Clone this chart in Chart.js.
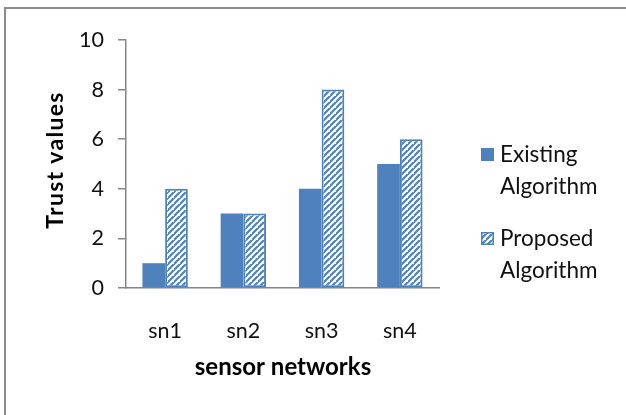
<!DOCTYPE html>
<html>
<head>
<meta charset="utf-8">
<script src="https://cdn.jsdelivr.net/npm/chart.js@4"></script>
<style>
  html, body { margin: 0; padding: 0; background: #fff; }
  #wrap { position: relative; width: 626px; height: 415px; }
  canvas { display: block; }
</style>
</head>
<body>
<div id="wrap"><canvas id="c" width="626" height="415"></canvas></div>
<script>
const categories = ['sn1', 'sn2', 'sn3', 'sn4'];
const existingValues = [1, 3, 4, 5];
const proposedValues = [4, 3, 8, 6];
const seriesNames = [['Existing', 'Algorithm'], ['Proposed', 'Algorithm']];
const yTicks = [0, 2, 4, 6, 8, 10];

const BLUE = '#4F81BD';
const FONT = 'Lato, "Open Sans", "Liberation Sans", sans-serif';

// Diagonal hatch fill for the second series
function makeHatch() {
  const s = 6;
  const t = document.createElement('canvas');
  t.width = s; t.height = s;
  const g = t.getContext('2d');
  g.fillStyle = '#fff';
  g.fillRect(0, 0, s, s);
  g.strokeStyle = BLUE;
  g.lineWidth = 2.2;
  g.beginPath();
  g.moveTo(-1, s + 1); g.lineTo(s + 1, -1);
  g.moveTo(-1 - s, s + 1); g.lineTo(1, -1);
  g.moveTo(s - 1, 2 * s + 1); g.lineTo(2 * s + 1, s - 1);
  g.stroke();
  return g.createPattern(t, 'repeat');
}
const ctx = document.getElementById('c').getContext('2d');
const hatch = makeHatch();

// Outer frame, axis titles and the two-line legend
const decorations = {
  id: 'decorations',
  beforeDraw(chart) {
    const c = chart.ctx;
    c.save();
    c.fillStyle = '#fff';
    c.fillRect(0, 0, chart.width, chart.height);
    c.strokeStyle = '#8c8c8c';
    c.lineWidth = 2;
    c.beginPath();
    c.moveTo(5, chart.height);
    c.lineTo(5, 8);
    c.lineTo(chart.width, 8);
    c.stroke();
    c.restore();
  },
  afterDraw(chart) {
    const c = chart.ctx;
    c.save();
    c.fillStyle = '#000';
    c.textAlign = 'center';
    c.textBaseline = 'middle';
    c.font = 'bold 24px ' + FONT;
    c.fillText('sensor networks', 283, 367);
    c.translate(56, 160);
    c.rotate(-Math.PI / 2);
    c.font = 'bold 23px ' + FONT;
    if ('letterSpacing' in c) c.letterSpacing = '1.3px';
    c.fillText('Trust values', 0, 0);
    c.restore();

    c.save();
    c.font = '22.5px ' + FONT;
    c.textBaseline = 'middle';
    c.textAlign = 'left';
    const tops = [148, 232];
    chart.data.datasets.forEach((ds, i) => {
      const y0 = tops[i];
      c.fillStyle = ds.backgroundColor;
      c.fillRect(481, y0, 13, 13);
      if (ds.borderWidth) {
        c.strokeStyle = ds.borderColor;
        c.lineWidth = 1.5;
        c.strokeRect(481.75, y0 + 0.75, 11.5, 11.5);
      }
      c.fillStyle = '#111';
      seriesNames[i].forEach((line, k) => c.fillText(line, 500, y0 + 7 + k * 32));
    });
    c.restore();
  }
};

new Chart(ctx, {
  type: 'bar',
  data: {
    labels: categories,
    datasets: [
      { label: seriesNames[0].join(' '), data: existingValues, backgroundColor: BLUE, borderWidth: 0 },
      { label: seriesNames[1].join(' '), data: proposedValues, backgroundColor: hatch, borderColor: BLUE, borderWidth: 2, borderSkipped: false }
    ]
  },
  options: {
    responsive: false,
    animation: false,
    events: [],
    layout: { padding: { left: 0, top: 40, right: 187, bottom: 37 } },
    plugins: { legend: { display: false }, tooltip: { enabled: false } },
    datasets: { bar: { categoryPercentage: 0.58, barPercentage: 1.0 } },
    scales: {
      x: {
        afterFit(s) { s.height = 90; },
        grid: { display: false },
        border: { display: true, color: '#868686', width: 1.5 },
        ticks: { color: '#111', font: { family: FONT, size: 21.5 }, padding: 22 }
      },
      y: {
        min: 0, max: 10,
        afterFit(s) { s.width = 126; },
        afterBuildTicks(s) { s.ticks = yTicks.map(v => ({ value: v })); },
        grid: { drawOnChartArea: false, drawTicks: true, tickLength: 8, color: '#868686', lineWidth: 1.5 },
        border: { display: true, color: '#868686', width: 1.5 },
        ticks: { color: '#111', font: { family: FONT, size: 21.5 }, padding: 14 }
      }
    }
  },
  plugins: [decorations]
});
</script>
</body>
</html>
